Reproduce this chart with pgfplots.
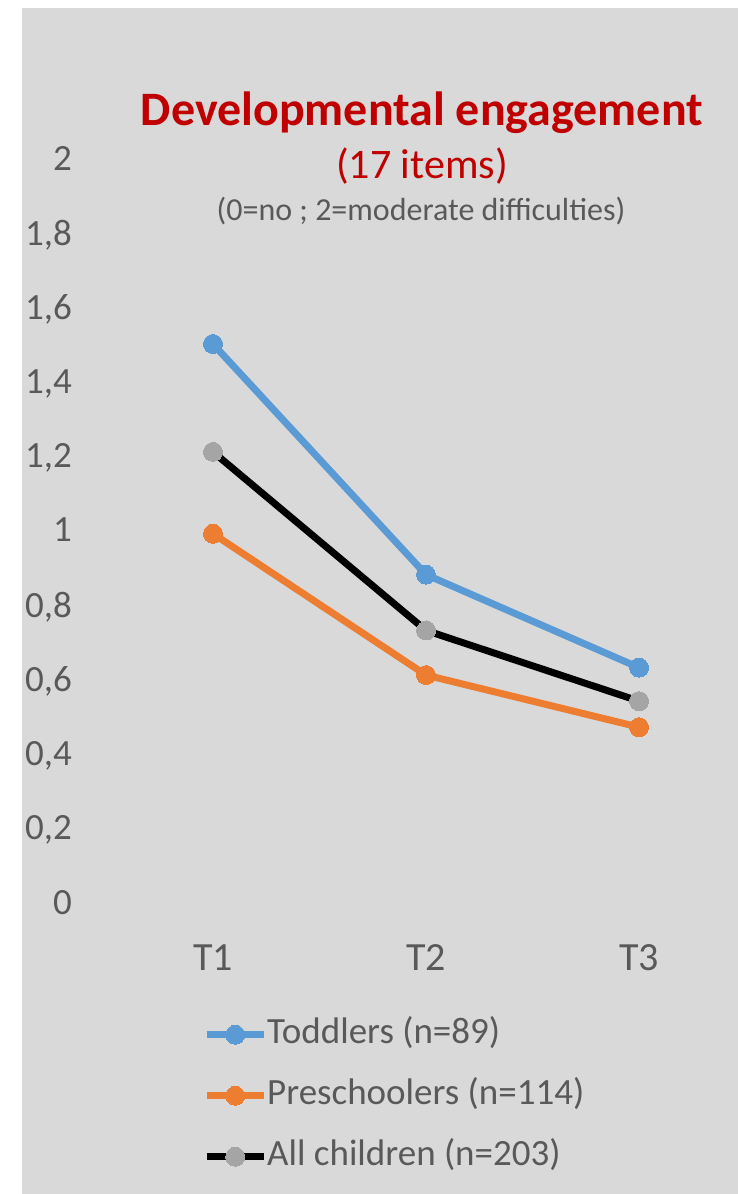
\documentclass[border=0pt]{standalone}
\usepackage{pgfplots}
\pgfplotsset{compat=1.18}
\usepackage{fontspec}
\setmainfont{Carlito}
\definecolor{bggray}{HTML}{D9D9D9}
\definecolor{txtgray}{HTML}{595959}
\definecolor{tblue}{HTML}{5B9BD5}
\definecolor{torange}{HTML}{ED7D31}
\definecolor{mgray}{HTML}{A5A5A5}
\definecolor{titlered}{HTML}{C00000}
\begin{document}
\begin{tikzpicture}[x=1pt,y=1pt]
\fill[white] (0,0) rectangle (738,-1194);
\fill[bggray] (22,-8) rectangle (738,-1194);
\node[anchor=base, inner sep=0pt, text=titlered, font=\fontsize{48}{56}\selectfont\bfseries] at (422,-125) {Developmental engagement};
\node[anchor=base, inner sep=0pt, text=titlered, font=\fontsize{42}{50}\selectfont] at (422,-178) {(17 items)};
\node[anchor=base, inner sep=0pt, text=txtgray, font=\fontsize{32}{38}\selectfont] at (421,-220) {(0=no ; 2=moderate difficulties)};
\begin{axis}[
  at={(95pt,-902pt)}, anchor=south west,
  scale only axis, width=635pt, height=744pt,
  xmin=-0.554, xmax=2.427, ymin=0, ymax=2,
  clip=false,
  axis line style={draw=none},
  major tick length=0pt,
  xtick={0,1,2}, xticklabels={T1,T2,T3},
  ytick={0,0.2,0.4,0.6,0.8,1,1.2,1.4,1.6,1.8,2},
  /pgf/number format/assume math mode=true,
  yticklabel style={/pgf/number format/.cd, use comma, fixed, precision=1, /tikz/.cd,
    anchor=east, inner sep=0pt, xshift=-23pt, text depth=0pt,
    font=\fontsize{37}{44}\selectfont, text=txtgray},
  xticklabel style={anchor=base, inner sep=0pt, yshift=-68pt,
    font=\fontsize{40}{48}\selectfont, text=txtgray},
  legend style={at={(0.1701,-0.1546)}, anchor=north west, draw=none, fill=none,
    inner sep=0pt, row sep=26pt, column sep=0pt,
    font=\fontsize{37}{44}\selectfont, text=txtgray,
    nodes={inner sep=0pt, text height=26pt, text depth=9pt}},
  legend cell align=left,
  legend image code/.code={
    \draw[mark repeat=2, mark phase=2, #1] plot coordinates {(0pt,0pt) (28.5pt,0pt) (57pt,0pt)};
  },
]
\addplot[color=tblue, line width=7pt, mark=*, mark size=9.5pt, mark options={solid, fill=tblue, draw=tblue, line width=0pt}]
  coordinates {(0,1.50) (1,0.88) (2,0.63)};
\addlegendentry{Toddlers (n=89)}
\addplot[color=torange, line width=7pt, mark=*, mark size=9.5pt, mark options={solid, fill=torange, draw=torange, line width=0pt}]
  coordinates {(0,0.99) (1,0.61) (2,0.47)};
\addlegendentry{Preschoolers (n=114)}
\addplot[color=black, line width=7pt, mark=*, mark size=9.5pt, mark options={solid, fill=mgray, draw=mgray, line width=0pt}]
  coordinates {(0,1.21) (1,0.73) (2,0.54)};
\addlegendentry{All children (n=203)}
\end{axis}
\end{tikzpicture}
\end{document}
